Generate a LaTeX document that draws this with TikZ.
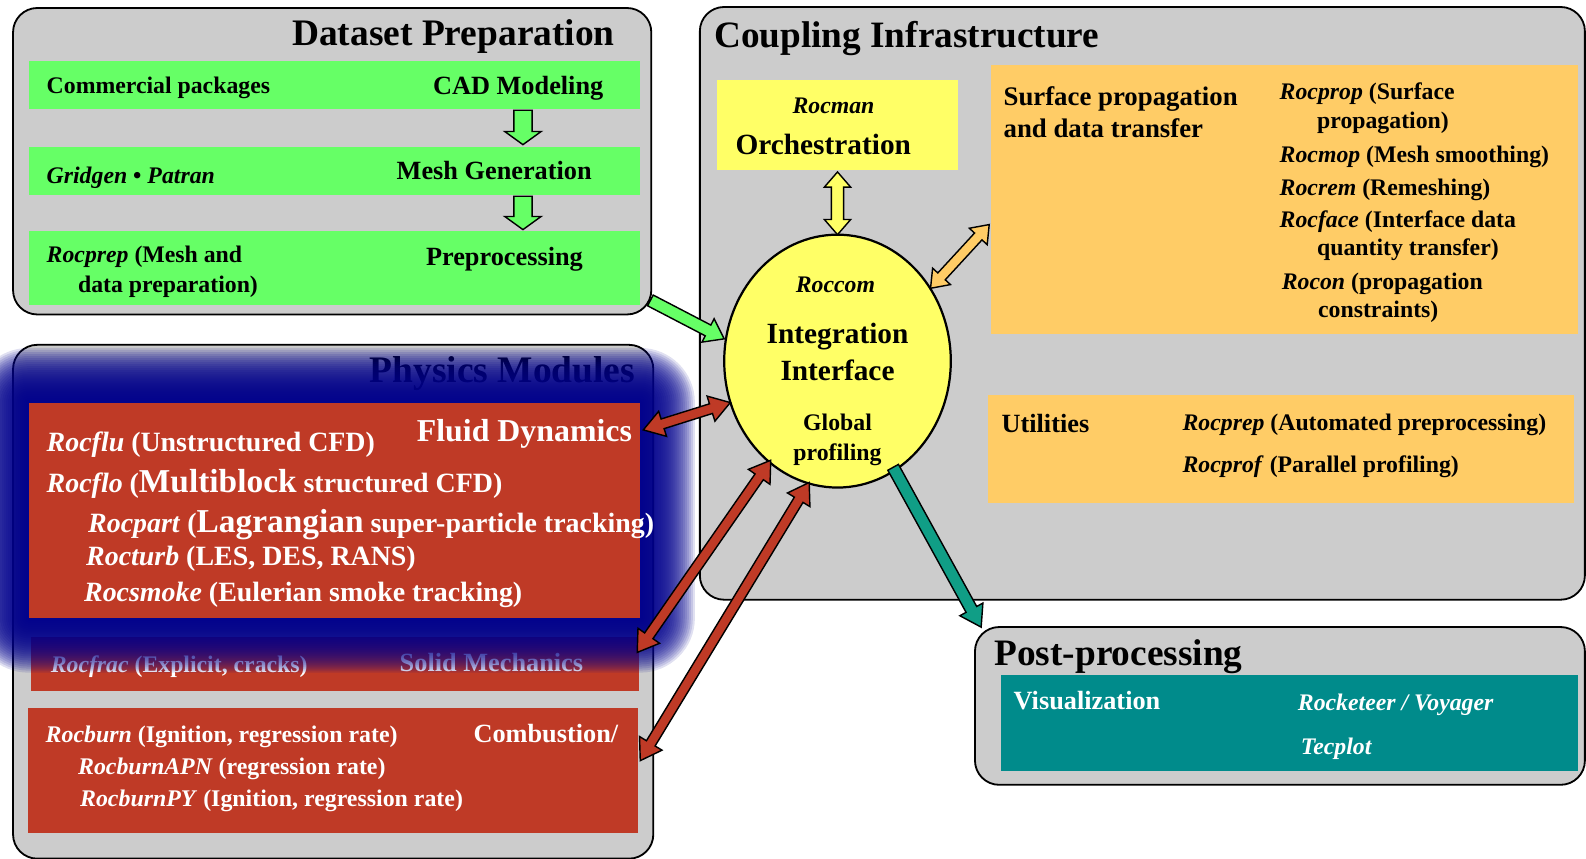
\documentclass[tikz,border=0pt]{standalone}
\usepackage{fontspec}
\setmainfont{Liberation Serif}
\usetikzlibrary{calc,shapes.geometric}
\definecolor{boxgray}{HTML}{CCCCCC}
\definecolor{dsgreen}{HTML}{66FF66}
\definecolor{ylw}{HTML}{FFFF66}
\definecolor{orng}{HTML}{FFCC66}
\definecolor{rocred}{HTML}{BF3A26}
\definecolor{tealbox}{HTML}{008B8B}
\definecolor{tealarrow}{HTML}{109E86}
\definecolor{glowblue}{HTML}{00008C}
\newcommand{\fsz}[1]{\fontsize{#1}{#1}\selectfont}
% double-headed block arrow: #1 style, #2 from, #3 to, #4 shaft half width, #5 head half width, #6 head length
\newcommand{\blkdbl}[6]{%
  \path let \p1=(#2), \p2=(#3) in \pgfextra{%
    \pgfmathsetmacro\arAtmp{atan2(\y2-\y1,\x2-\x1)}%
    \pgfmathsetmacro\arLtmp{veclen(\x2-\x1,\y2-\y1)}%
    \xdef\arA{\arAtmp}\xdef\arL{\arLtmp}\xdef\arX{\x1}\xdef\arY{\y1}};
  \begin{scope}[shift={(\arX,\arY)}, rotate=\arA, x=1pt, y=1pt]
    \filldraw[#1] (0,0) -- (#6,#5) -- (#6,#4) -- ({\arL-#6},#4) -- ({\arL-#6},#5) -- (\arL,0)
      -- ({\arL-#6},-#5) -- ({\arL-#6},-#4) -- (#6,-#4) -- (#6,-#5) -- cycle;
  \end{scope}}
% single-headed block arrow
\newcommand{\blksgl}[6]{%
  \path let \p1=(#2), \p2=(#3) in \pgfextra{%
    \pgfmathsetmacro\arAtmp{atan2(\y2-\y1,\x2-\x1)}%
    \pgfmathsetmacro\arLtmp{veclen(\x2-\x1,\y2-\y1)}%
    \xdef\arA{\arAtmp}\xdef\arL{\arLtmp}\xdef\arX{\x1}\xdef\arY{\y1}};
  \begin{scope}[shift={(\arX,\arY)}, rotate=\arA, x=1pt, y=1pt]
    \filldraw[#1] (0,#4) -- ({\arL-#6},#4) -- ({\arL-#6},#5) -- (\arL,0)
      -- ({\arL-#6},-#5) -- ({\arL-#6},-#4) -- (0,-#4) -- cycle;
  \end{scope}}
\tikzset{
  outerbox/.style={draw=black, line width=1.8, fill=boxgray, rounded corners=24, inner sep=0, anchor=north west},
  flatbox/.style={inner sep=0, anchor=north west},
  lbl/.style={inner sep=0, font=\bfseries\fsz{23.5}, anchor=base west},
  arrline/.style={draw=black, line width=1.4, line join=miter},
}
\begin{document}
\begin{tikzpicture}[x=1pt,y=-1pt]
\useasboundingbox (0,0) rectangle (1568,849);

% ---------------- Dataset Preparation
\node[outerbox, minimum width=631, minimum height=303] (ds) at (12,7) {};
\node[lbl, font=\bfseries\fsz{37}, anchor=base east] (dstitle) at (608,45) {Dataset Preparation};
\node[flatbox, fill=dsgreen, minimum width=605, minimum height=48] (cad) at (28,60) {};
\node[flatbox, fill=dsgreen, minimum width=605, minimum height=48] (mesh) at (28,145) {};
\node[flatbox, fill=dsgreen, minimum width=605, minimum height=73] (pre) at (28,228) {};
\node[lbl] (cadl) at (46,92) {Commercial packages};
\node[lbl, font=\bfseries\fsz{26}] (cadr) at (428,93) {CAD Modeling};
\node[lbl] (meshl) at (46,181) {\textit{Gridgen} • \textit{Patran}};
\node[lbl, font=\bfseries\fsz{26}] (meshr) at (392,177) {Mesh Generation};
\node[lbl] (prel1) at (46,260) {\textit{Rocprep} (Mesh and};
\node[lbl] (prel2) at (77,289) {data preparation)};
\node[lbl, font=\bfseries\fsz{26}] (prer) at (421,262) {Preprocessing};
\coordinate (d1a) at (517,109);
\coordinate (d1b) at (517,143);
\coordinate (d2a) at (517,194);
\coordinate (d2b) at (517,227);
\blksgl{arrline, fill=dsgreen}{d1a}{d1b}{9}{18}{13}
\blksgl{arrline, fill=dsgreen}{d2a}{d2b}{9}{18}{13}

% ---------------- Physics Modules
\node[outerbox, minimum width=633, minimum height=508] (phys) at (12,340) {};
\node[lbl, font=\bfseries\fsz{37}, anchor=base east] (phystitle) at (628,378) {Physics Modules};
\node[flatbox, fill=rocred, minimum width=602, minimum height=53] (solid) at (30,630) {};
\node[lbl, white] (solidl) at (50,665) {\textit{Rocfrac} (Explicit, cracks)};
\node[lbl, white, font=\bfseries\fsz{26}] (solidr) at (395,664) {Solid Mechanics};
\node[flatbox, fill=rocred, minimum width=604, minimum height=123] (comb) at (27,700) {};
\node[lbl, white, font=\bfseries\fsz{23.6}] (comb1) at (45,734) {\textit{Rocburn} (Ignition, regression rate)};
\node[lbl, white, font=\bfseries\fsz{26}] (combr) at (468,734) {Combustion/};
\node[lbl, white, font=\bfseries\fsz{23.6}] (comb2) at (77,766) {\textit{RocburnAPN} (regression rate)};
\node[lbl, white, font=\bfseries\fsz{23.6}] (comb3) at (79,797) {\textit{RocburnPY} (Ignition, regression rate)};
% glow around fluid dynamics
\foreach \o in {2,4,...,54} {
  \fill[glowblue, opacity=0.12, rounded corners=\o] (28-\o,398-\o) rectangle (633+\o,611+\o);
}
\node[flatbox, fill=rocred, minimum width=605, minimum height=213] (fluid) at (28,398) {};
\node[lbl, white, font=\bfseries\fsz{31.5}, anchor=base east] (fluidr) at (625,436) {Fluid Dynamics};
\node[lbl, white, font=\bfseries\fsz{27.6}] (fl1) at (46,446) {\textit{Rocflu} (Unstructured CFD)};
\node[lbl, white, font=\bfseries\fsz{27.6}] (fl2) at (46,487) {\textit{Rocflo} ({\fsz{33}Multiblock} structured CFD)};
\node[lbl, white, font=\bfseries\fsz{27.6}] (fl3) at (87,526) {\textit{Rocpart} ({\fsz{33}Lagrangian} super-particle tracking)};
\node[lbl, white, font=\bfseries\fsz{27.6}] (fl4) at (85,559) {\textit{Rocturb} (LES, DES, RANS)};
\node[lbl, white, font=\bfseries\fsz{27.6}] (fl5) at (83,595) {\textit{Rocsmoke} (Eulerian smoke tracking)};

% ---------------- Coupling Infrastructure
\node[outerbox, minimum width=875, minimum height=586] (coup) at (691,6) {};
\node[lbl, font=\bfseries\fsz{36.8}] (couptitle) at (706,47) {Coupling Infrastructure};
\node[flatbox, fill=ylw, minimum width=238, minimum height=89] (rocman) at (709,79) {};
\node[lbl, anchor=base] (rocmanl) at (824,112) {\textit{Rocman}};
\node[lbl, font=\bfseries\fsz{29}] (orch) at (727,153) {Orchestration};
\node[flatbox, fill=orng, minimum width=580, minimum height=266] (surf) at (980,64) {};
\node[lbl, font=\bfseries\fsz{26.5}] (surf1) at (992,104) {Surface propagation};
\node[lbl, font=\bfseries\fsz{26.5}] (surf2) at (992,136) {and data transfer};
\node[lbl] (s1) at (1265,98) {\textit{Rocprop} (Surface};
\node[lbl] (s2) at (1302,127) {propagation)};
\node[lbl] (s3) at (1265,161) {\textit{Rocmop} (Mesh smoothing)};
\node[lbl] (s4) at (1265,193) {\textit{Rocrem} (Remeshing)};
\node[lbl] (s5) at (1265,225) {\textit{Rocface} (Interface data};
\node[lbl] (s6) at (1302,253) {quantity transfer)};
\node[lbl] (s7) at (1267,286) {\textit{Rocon} (propagation};
\node[lbl] (s8) at (1303,314) {constraints)};
\node[flatbox, fill=orng, minimum width=579, minimum height=107] (util) at (977,390) {};
\node[lbl, font=\bfseries\fsz{26}] (utill) at (990,428) {Utilities};
\node[lbl] (u1) at (1169,426) {\textit{Rocprep} (Automated preprocessing)};
\node[lbl] (u2) at (1169,467) {\textit{Rocprof} (Parallel profiling)};

% ---------------- Post-processing
\node[outerbox, minimum width=603, minimum height=156] (post) at (963,619) {};
\node[lbl, font=\bfseries\fsz{36.9}] (posttitle) at (983,658) {Post-processing};
\node[flatbox, fill=tealbox, minimum width=571, minimum height=95] (vis) at (989,667) {};
\node[lbl, white, font=\bfseries\fsz{26}] (visl) at (1002,701) {Visualization};
\node[lbl, white] (v1) at (1283,702) {\textit{Rocketeer / Voyager}};
\node[lbl, white] (v2) at (1286,746) {\textit{Tecplot}};

% ---------------- Integration interface
\node[ellipse, draw=black, line width=2.2, fill=ylw, minimum width=224, minimum height=250, inner sep=0] (ell) at (828,357) {};
\node[lbl, anchor=base] (roccom) at (826,289) {\textit{Roccom}};
\node[lbl, anchor=base, font=\bfseries\fsz{29}] (integ) at (828,340) {Integration};
\node[lbl, anchor=base, font=\bfseries\fsz{29}] (iface) at (828,376) {Interface};
\node[lbl, anchor=base] (glob) at (828,426) {Global};
\node[lbl, anchor=base] (prof) at (828,455) {profiling};

% ---------------- connectors
\coordinate (yA) at (828,170);
\coordinate (yB) at (828,232);
\blkdbl{arrline, fill=ylw}{yA}{yB}{6}{13}{15}
\coordinate (oA) at (920,285);
\coordinate (oB) at (978,222);
\blkdbl{arrline, fill=orng}{oA}{oB}{5}{12}{16}
\coordinate (gA) at (643,297);
\coordinate (gB) at (716,335);
\blksgl{arrline, fill=dsgreen}{gA}{gB}{6}{13}{18}
\coordinate (r1A) at (636,425);
\coordinate (r1B) at (722,398);
\blkdbl{arrline, fill=rocred}{r1A}{r1B}{5}{13}{20}
\coordinate (r2A) at (630,645);
\coordinate (r2B) at (762,455);
\blkdbl{arrline, fill=rocred}{r2A}{r2B}{5}{13}{20}
\coordinate (r3A) at (633,752);
\coordinate (r3B) at (800,477);
\blkdbl{arrline, fill=rocred}{r3A}{r3B}{5}{13}{20}
\coordinate (tA) at (883,462);
\coordinate (tB) at (970,620);
\blksgl{arrline, fill=tealarrow}{tA}{tB}{6}{13}{20}
\end{tikzpicture}
\end{document}
